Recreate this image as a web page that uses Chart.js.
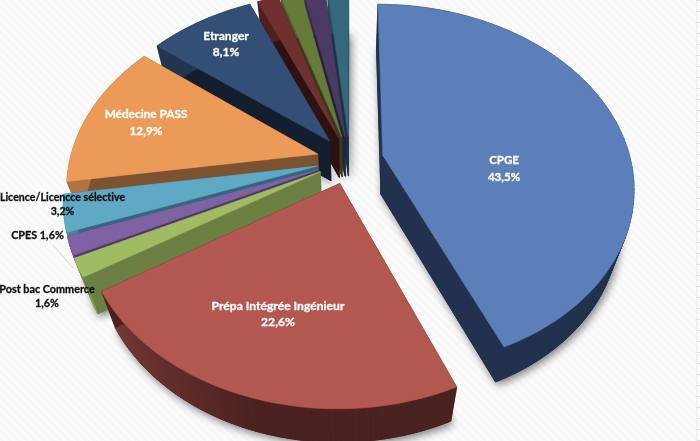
<!DOCTYPE html>
<html lang="fr">
<head>
<meta charset="utf-8">
<title>Orientation post bac</title>
<script src="https://cdn.jsdelivr.net/npm/chart.js@4/dist/chart.umd.js"></script>
<style>
  html, body { margin: 0; padding: 0; }
  body {
    width: 700px; height: 441px; overflow: hidden; position: relative;
    background: repeating-linear-gradient(45deg, #f7f7f7 0 3px, #fbfbfb 3px 6px);
  }
  /* the source is a soft screenshot */
  canvas { display: block; position: absolute; left: 0; top: 0; filter: blur(0.45px); }
  #edge {
    position: absolute; left: 696px; top: 0; width: 4px; height: 441px;
    border-left: 1px solid #ececec; box-sizing: border-box;
    background: repeating-linear-gradient(180deg, #dcdcdc 0 1px, transparent 1px 11px);
  }
</style>
</head>
<body>
<div id="edge"></div>
<canvas id="myChart" width="700" height="441"></canvas>
<script>
'use strict';

// values, small slices at the top have no visible label
const categories = ['CPGE', 'Prépa Intégrée Ingénieur', 'Post bac Commerce', 'CPES', 'Licence/Licencce sélective', 'Médecine PASS', 'Etranger', '', '', '', ''];
const values = [43.5, 22.6, 1.6, 1.6, 3.2, 12.9, 8.1, 1.6, 1.6, 1.6, 1.6];
const topColors = ['#5b7fb8', '#b25850', '#a0bb64', '#7f62a2', '#5fa9c4', '#eb9b57', '#344f75', '#6f3130', '#667a3a', '#4c3a66', '#36687c'];
const wallColors = ['#22324e', '#4a2220', '#6b7f42', '#4a3763', '#32687d', '#7c5230', '#131f2f', '#2f1210', '#33401c', '#2a1f3a', '#163644'];

// how the flat pie gets tilted and extruded
const tilt = { scaleX: 1.2, scaleY: 0.862, shiftY: -60.5, persp: 0.17, depth: 42.5, depthFall: 0.022, converge: 0.055, vanishX: 350 };

// centre of each text block
const labelSpots = [
  { x: 504, y: 169, gap: 16.5, size: 11.5, color: '#fff' },
  { x: 278, y: 314, gap: 16.5, size: 12.1, color: '#fff' },
  { x: 47, y: 297, gap: 14, size: 10.8, color: '#111' },
  { x: 37.5, y: 236, size: 10.8, color: '#111', oneLine: true },
  { x: 62.5, y: 205, gap: 14, size: 10.6, color: '#111' },
  { x: 146, y: 122.5, gap: 16.5, size: 11.8, color: '#fff' },
  { x: 226, y: 44, gap: 16.5, size: 12, color: '#fff' }
];

function mix(a, b, t){
  const ca = parseInt(a.slice(1), 16);
  const cb = parseInt(b.slice(1), 16);
  const out = [16, 8, 0].map(s => Math.round(((ca >> s) & 255) * (1 - t) + ((cb >> s) & 255) * t));
  return `rgb(${out[0]},${out[1]},${out[2]})`;
}

// turns an arc element into top surface points, projected with perspective
function sliceOutline(arc){
  const r = arc.outerRadius;
  const mid = (arc.startAngle + arc.endAngle) / 2;
  const ox = Math.cos(mid) * arc.options.offset / r;
  const oy = Math.sin(mid) * arc.options.offset / r;
  const project = (u, v) => {
    const w = 1 - tilt.persp * v;
    return { x: arc.x + r * tilt.scaleX * u / w, y: arc.y + tilt.shiftY + r * tilt.scaleY * v / w };
  };
  const pts = [project(ox, oy)];
  const steps = Math.max(2, Math.ceil((arc.endAngle - arc.startAngle) / 0.02));
  for(let i = 0; i <= steps; i++){
    const a = arc.startAngle + (arc.endAngle - arc.startAngle) * i / steps;
    const p = project(Math.cos(a) + ox, Math.sin(a) + oy);
    p.deg = (a + Math.PI / 2) * 180 / Math.PI;
    pts.push(p);
  }
  return pts;
}

function lowered(p){
  return {
    x: p.x - tilt.converge * (p.x - tilt.vanishX),
    y: p.y + tilt.depth - tilt.depthFall * p.y
  };
}

function fillPoly(ctx, pts, color){
  ctx.beginPath();
  pts.forEach((p, i) => (i ? ctx.lineTo(p.x, p.y) : ctx.moveTo(p.x, p.y)));
  ctx.closePath();
  ctx.fillStyle = color;
  ctx.fill();
  ctx.strokeStyle = color;
  ctx.lineWidth = 0.6;
  ctx.stroke();
}

function wallShade(deg, index){
  const t = Math.min(1, Math.max(0, (deg - 195) / 43)) * 0.48;
  return mix(wallColors[index], topColors[index], t);
}

// same as the normal pie, only the drawing of the slices is different
class Pie3d extends Chart.PieController {
  static id = 'pie3d';

  draw(){
    const ctx = this.chart.ctx;
    const arcs = this.getMeta().data;
    const outlines = arcs.map(sliceOutline);

    // soft shadow first so it only lands on the background
    ctx.save();
    ctx.shadowColor = 'rgba(0,0,0,0.5)';
    ctx.shadowBlur = 9;
    ctx.shadowOffsetX = 2;
    ctx.shadowOffsetY = 3;
    outlines.forEach((pts, i) => fillPoly(ctx, pts.map(lowered), wallColors[i]));
    ctx.restore();

    // back to front
    for(let i = arcs.length - 1; i >= 0; i--){
      const pts = outlines[i];
      const low = pts.map(lowered);
      fillPoly(ctx, low, wallColors[i]);
      for(let j = 0; j < pts.length; j++){
        const k = (j + 1) % pts.length;
        const outer = j > 0 && k > 0;
        const color = outer ? wallShade(pts[j].deg, i) : wallColors[i];
        fillPoly(ctx, [pts[j], pts[k], low[k], low[j]], color);
      }
      fillPoly(ctx, pts, topColors[i]);
    }
  }
}
Chart.register(Pie3d);

const sliceLabels = {
  id: 'sliceLabels',
  afterDatasetsDraw(chart){
    const ctx = chart.ctx;
    ctx.save();

    // leader line of the CPES label
    ctx.strokeStyle = '#c4c4c4';
    ctx.lineWidth = 0.7;
    ctx.beginPath();
    ctx.moveTo(53, 245);
    ctx.lineTo(73, 268);
    ctx.stroke();

    ctx.textAlign = 'center';
    ctx.textBaseline = 'middle';
    ctx.letterSpacing = '0.01px'; // keeps Lato from joining c and t
    ctx.lineWidth = 0.3;
    const put = (text, x, y) => {
      ctx.fillText(text, x, y);
      ctx.strokeText(text, x, y);
    };
    labelSpots.forEach((spot, i) => {
      const pct = values[i].toFixed(1).replace('.', ',') + '%';
      ctx.font = `bold ${spot.size}px Lato, "Open Sans", sans-serif`;
      ctx.fillStyle = spot.color;
      ctx.strokeStyle = spot.color;
      if(spot.oneLine){
        put(categories[i] + ' ' + pct, spot.x, spot.y);
      } else {
        put(categories[i], spot.x, spot.y - spot.gap / 2);
        put(pct, spot.x, spot.y + spot.gap / 2);
      }
    });
    ctx.restore();
  }
};

new Chart(document.getElementById('myChart'), {
  type: 'pie3d',
  data: {
    labels: categories,
    datasets: [{
      data: values,
      backgroundColor: topColors,
      borderWidth: 0,
      offset: 28
    }]
  },
  options: {
    responsive: false,
    animation: false,
    layout: { padding: 0 },
    plugins: { legend: { display: false }, tooltip: { enabled: false } }
  },
  plugins: [sliceLabels]
});
</script>
</body>
</html>
